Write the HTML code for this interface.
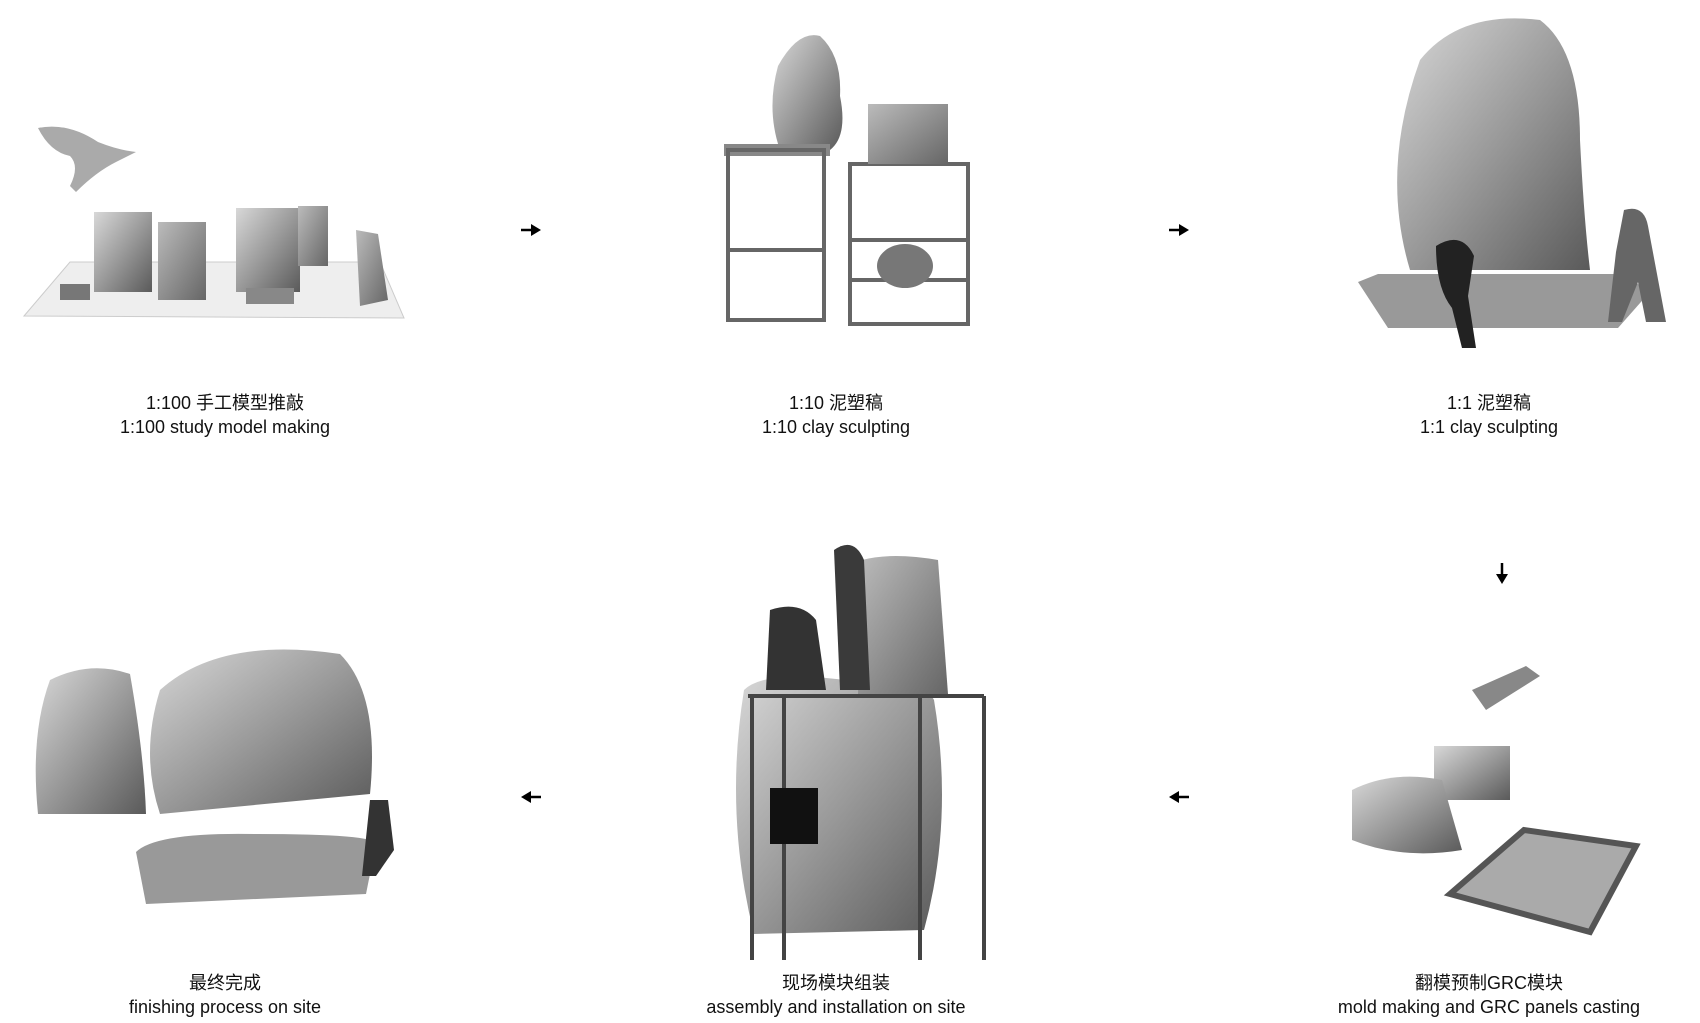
<!DOCTYPE html>
<html><head><meta charset="utf-8"><style>
body{margin:0;width:1700px;height:1023px;background:#fff;overflow:hidden;position:relative;font-family:"Liberation Sans","Noto Sans CJK SC",sans-serif;}
.l{position:absolute;width:500px;text-align:center;font-size:18px;line-height:24px;color:#111;}
svg{position:absolute;left:0;top:0}
</style></head><body>
<svg width="1700" height="1023" viewBox="0 0 1700 1023">
<defs>
<linearGradient id="g" x1="0" y1="0" x2="1" y2="1"><stop offset="0" stop-color="#d8d8d8"/><stop offset="0.5" stop-color="#9a9a9a"/><stop offset="1" stop-color="#5a5a5a"/></linearGradient>
<linearGradient id="g2" x1="0" y1="0" x2="1" y2="1"><stop offset="0" stop-color="#bbb"/><stop offset="1" stop-color="#666"/></linearGradient>
</defs>
<polygon points="24,316 70,262 380,262 404,318" fill="#eee" stroke="#ccc"/>
<path d="M38,128 q30,-6 60,14 q20,8 38,10 l-20,10 q-20,10 -40,30 l-6,-6 q10,-20 0,-30 q-20,-4 -32,-28z" fill="#aaa"/>
<rect x="94" y="212" width="58" height="80" fill="url(#g)"/>
<rect x="158" y="222" width="48" height="78" fill="url(#g2)"/>
<rect x="236" y="208" width="64" height="84" fill="url(#g)"/>
<rect x="298" y="206" width="30" height="60" fill="url(#g2)"/>
<polygon points="356,230 378,234 388,300 360,306" fill="url(#g2)"/>
<rect x="60" y="284" width="30" height="16" fill="#777"/>
<rect x="246" y="288" width="48" height="16" fill="#888"/>
<path d="M778,66 q20,-36 42,-30 q22,20 20,60 q8,40 -10,54 l-50,0 q-14,-40 -2,-84z" fill="url(#g)"/>
<rect x="724" y="144" width="106" height="12" fill="#888"/>
<g stroke="#666" stroke-width="4" fill="none"><rect x="728" y="150" width="96" height="170"/><line x1="728" y1="250" x2="824" y2="250"/><rect x="850" y="164" width="118" height="160"/><line x1="850" y1="240" x2="968" y2="240"/><line x1="850" y1="280" x2="968" y2="280"/></g>
<rect x="868" y="104" width="80" height="60" fill="url(#g2)"/>
<ellipse cx="905" cy="266" rx="28" ry="22" fill="#777"/>
<path d="M1420,60 q40,-50 120,-40 q40,30 40,120 q4,80 10,130 l-180,0 q-30,-100 10,-210z" fill="url(#g)"/>
<path d="M1358,282 l20,-8 l250,0 l20,20 l-30,34 l-230,0z" fill="#999"/>
<path d="M1436,246 q26,-16 38,10 l-6,40 l8,52 l-14,0 l-10,-40 q-16,-20 -16,-62z" fill="#222"/>
<path d="M1624,210 q20,-6 24,16 l18,96 l-20,0 l-8,-40 l-16,40 l-14,0 l8,-70z" fill="#666"/>
<path d="M50,680 q40,-20 80,-6 q14,80 16,140 l-108,0 q-8,-80 12,-134z" fill="url(#g)"/>
<path d="M160,690 q60,-54 180,-36 q40,40 30,140 l-210,20 q-20,-60 0,-124z" fill="url(#g)"/>
<path d="M136,852 q20,-20 120,-18 q120,0 120,10 l-10,50 l-220,10z" fill="#999"/>
<path d="M370,800 l18,0 l6,50 l-18,26 l-14,0z" fill="#333"/>
<path d="M744,690 q20,-20 100,-10 q80,0 90,20 q20,120 -10,230 l-170,4 q-30,-120 -10,-244z" fill="url(#g)"/>
<path d="M862,560 q30,-8 76,0 l10,134 l-90,0z" fill="url(#g2)"/>
<g stroke="#444" stroke-width="4"><line x1="748" y1="696" x2="984" y2="696"/><line x1="752" y1="696" x2="752" y2="960"/><line x1="784" y1="696" x2="784" y2="960"/><line x1="920" y1="696" x2="920" y2="960"/><line x1="984" y1="696" x2="984" y2="960"/></g>
<rect x="770" y="788" width="48" height="56" fill="#111"/>
<path d="M770,610 q30,-10 46,10 l10,70 l-60,0z" fill="#333"/>
<path d="M834,550 q20,-14 30,10 l6,130 l-30,0z" fill="#3a3a3a"/>
<polygon points="1472,690 1526,666 1540,676 1486,710" fill="#888"/>
<rect x="1434" y="746" width="76" height="54" fill="url(#g)"/>
<path d="M1352,790 q40,-20 90,-10 l20,70 q-60,10 -110,-10z" fill="url(#g)"/>
<polygon points="1450,894 1524,830 1636,846 1590,932" fill="#aaa" stroke="#555" stroke-width="6"/>
<g stroke="#000" stroke-width="2.5" fill="#000">
<line x1="521" y1="230" x2="534" y2="230"/><polygon points="541,230 531,224 531,236" stroke="none"/>
<line x1="1169" y1="230" x2="1182" y2="230"/><polygon points="1189,230 1179,224 1179,236" stroke="none"/>
<line x1="1502" y1="563" x2="1502" y2="576"/><polygon points="1502,584 1496,574 1508,574" stroke="none"/>
<line x1="528" y1="797" x2="541" y2="797"/><polygon points="521,797 531,791 531,803" stroke="none"/>
<line x1="1176" y1="797" x2="1189" y2="797"/><polygon points="1169,797 1179,791 1179,803" stroke="none"/>
</g>
</svg>
<div class="l" style="left:-25px;top:391px">1:100 手工模型推敲<br>1:100 study model making</div>
<div class="l" style="left:586px;top:391px">1:10 泥塑稿<br>1:10 clay sculpting</div>
<div class="l" style="left:1239px;top:391px">1:1 泥塑稿<br>1:1 clay sculpting</div>
<div class="l" style="left:-25px;top:971px">最终完成<br>finishing process on site</div>
<div class="l" style="left:586px;top:971px">现场模块组装<br>assembly and installation on site</div>
<div class="l" style="left:1239px;top:971px">翻模预制GRC模块<br>mold making and GRC panels casting</div>
</body></html>
